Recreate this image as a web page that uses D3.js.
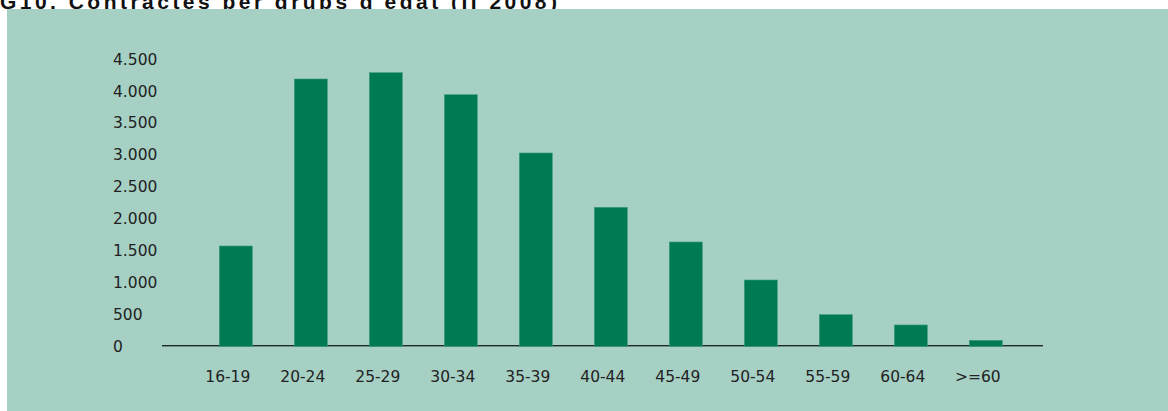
<!DOCTYPE html>
<html>
<head>
<meta charset="utf-8">
<script src="https://cdn.jsdelivr.net/npm/d3@7"></script>
<style>
  html, body { margin: 0; padding: 0; background: #ffffff; }
  svg { display: block; }
</style>
</head>
<body>
<svg id="chart" width="1168" height="411"></svg>
<script>
const title = "G10. Contractes per grups d'edat (II 2008)";
const categories = ["16-19", "20-24", "25-29", "30-34", "35-39", "40-44", "45-49", "50-54", "55-59", "60-64", ">=60"];
const values = [1573, 4187, 4286, 3941, 3029, 2179, 1636, 1041, 498, 337, 97];
const yTicks = [0, 500, 1000, 1500, 2000, 2500, 3000, 3500, 4000, 4500];

const svg = d3.select("#chart");
const locale = d3.formatLocale({ decimal: ",", thousands: ".", grouping: [3], currency: ["", " €"] });
const fmt = locale.format(",");

// title (partly cut at top, descenders hidden by panel)
svg.append("text")
  .attr("x", 0).attr("y", 8.5)
  .attr("textLength", 557).attr("lengthAdjust", "spacing")
  .style("font-family", "'Liberation Sans', Arial, sans-serif")
  .style("font-weight", "bold")
  .style("font-size", "21px")
  .style("fill", "#111")
  .text(title);

// panel
svg.append("rect")
  .attr("x", 7).attr("y", 9).attr("width", 1161).attr("height", 402)
  .attr("fill", "#a6d0c4");

const x = d3.scaleBand().domain(categories).range([198.3, 1023.3])
  .paddingInner(0.56).paddingOuter(0.28);
const y = d3.scaleLinear().domain([0, 4500]).range([346.5, 59]);

const font = "'DejaVu Sans', Verdana, sans-serif";

// y labels
svg.append("g").selectAll("text").data(yTicks).join("text")
  .attr("x", 113).attr("y", d => y(d))
  .attr("dy", "0.36em")
  .style("font-family", font).style("font-size", "15.5px").style("fill", "#222")
  .text(d => fmt(d));

// axis baseline
svg.append("line")
  .attr("x1", 162).attr("x2", 1043).attr("y1", 345.5).attr("y2", 345.5)
  .attr("stroke", "#1f2a26").attr("stroke-width", 1);
svg.append("line")
  .attr("x1", 162).attr("x2", 1043).attr("y1", 346.5).attr("y2", 346.5)
  .attr("stroke", "#6f8f86").attr("stroke-width", 1);

// bars
svg.append("g").selectAll("rect").data(values).join("rect")
  .attr("x", (d, i) => x(categories[i]))
  .attr("y", d => y(d))
  .attr("width", x.bandwidth())
  .attr("height", d => y(0) - y(d))
  .attr("fill", "#007a55")
  .attr("stroke", "#3f9c7c").attr("stroke-width", 0.6);

// x labels
svg.append("g").selectAll("text").data(categories).join("text")
  .attr("x", d => x(d) + x.bandwidth() / 2 - 8)
  .attr("y", 382)
  .attr("text-anchor", "middle")
  .style("font-family", font).style("font-size", "15.5px").style("fill", "#222")
  .text(d => d);
</script>
</body>
</html>
